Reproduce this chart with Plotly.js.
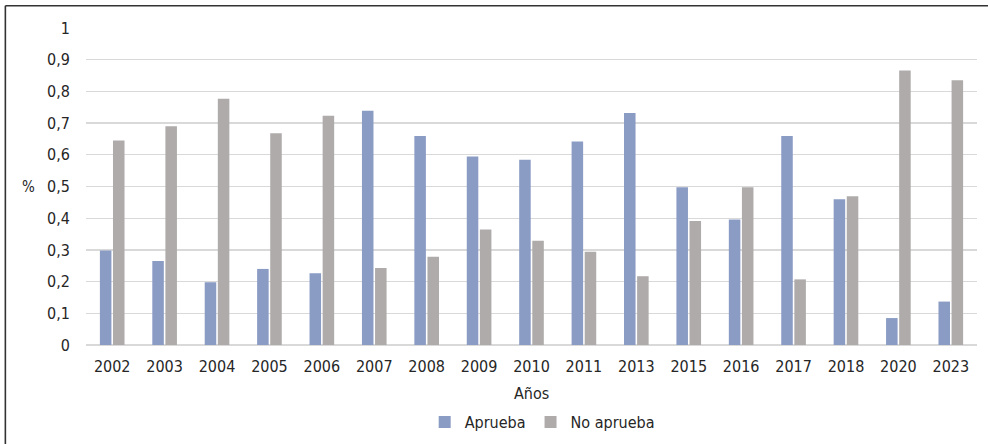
<!DOCTYPE html>
<html>
<head>
<meta charset="utf-8">
<script src="https://cdn.plot.ly/plotly-3.0.1.min.js"></script>
<style>
html,body{margin:0;padding:0;background:#fff;}
#chart{width:988px;height:444px;}
</style>
</head>
<body>
<div id="chart"></div>
<script>
var years = ["2002","2003","2004","2005","2006","2007","2008","2009","2010","2011","2013","2015","2016","2017","2018","2020","2023"];
var aprueba = [0.298,0.265,0.198,0.240,0.226,0.739,0.659,0.595,0.584,0.642,0.732,0.498,0.396,0.659,0.460,0.085,0.137];
var noAprueba = [0.645,0.690,0.777,0.668,0.723,0.243,0.278,0.364,0.329,0.294,0.217,0.391,0.498,0.207,0.469,0.866,0.835];
var seriesNames = ["Aprueba","No aprueba"];
var yTicks = [0,0.1,0.2,0.3,0.4,0.5,0.6,0.7,0.8,0.9,1];
var xTitle = "Años";
var yTitle = "%";

var FONT = '"DejaVu Sans Condensed","Liberation Sans Narrow","Roboto",sans-serif';
var txt = '#262626';
var FS = 16;

var traces = [
  {type:'bar', name:seriesNames[0], x:years, y:aprueba, marker:{color:'#8A9BC4'}},
  {type:'bar', name:seriesNames[1], x:years, y:noAprueba, marker:{color:'#AFABAB'}}
];

var layout = {
  width:988, height:444,
  margin:{l:86, r:11, t:28, b:99, autoexpand:false},
  paper_bgcolor:'#ffffff', plot_bgcolor:'#ffffff',
  font:{family:FONT, size:FS, color:txt},
  separators:',.',
  barmode:'group', bargap:0.5, bargroupgap:0.12,
  showlegend:true,
  legend:{orientation:'h', x:0.512, xanchor:'center', y:-0.243, yanchor:'middle',
          font:{family:FONT, size:FS, color:txt}, itemwidth:30, traceorder:'normal'},
  xaxis:{type:'category', tickfont:{family:FONT,size:FS,color:txt}, showgrid:false,
         showline:false, ticks:'', ticklabelstandoff:10, automargin:false},
  yaxis:{range:[0,1], tickvals:yTicks, ticktext:yTicks.map(function(v){return String(v).replace('.',',');}),
         tickfont:{family:FONT,size:FS,color:txt}, showgrid:true, gridcolor:'#D9D9D9', gridwidth:1.3,
         zeroline:true, zerolinecolor:'#D9D9D9', zerolinewidth:1.5, showline:false, ticks:'',
         ticklabelstandoff:15, automargin:false},
  annotations:[
    {text:yTitle, xref:'paper', yref:'paper', x:-0.065, y:0.5, xanchor:'center', yanchor:'middle',
     showarrow:false, font:{family:FONT,size:15,color:txt}},
    {text:xTitle, xref:'paper', yref:'paper', x:0.5, y:-0.152, xanchor:'center', yanchor:'middle',
     showarrow:false, font:{family:FONT,size:FS,color:txt}}
  ],
  shapes:[
    {type:'line', xref:'paper', yref:'paper', x0:-0.0905, x1:-0.0905, y0:-0.6, y1:1.07, line:{color:'#333333', width:1.6}},
    {type:'line', xref:'paper', yref:'paper', x0:-0.0905, x1:1.05, y0:1.07, y1:1.07, line:{color:'#333333', width:1.6}}
  ]
};

Plotly.newPlot('chart', traces, layout, {displayModeBar:false, staticPlot:true});
</script>
</body>
</html>
